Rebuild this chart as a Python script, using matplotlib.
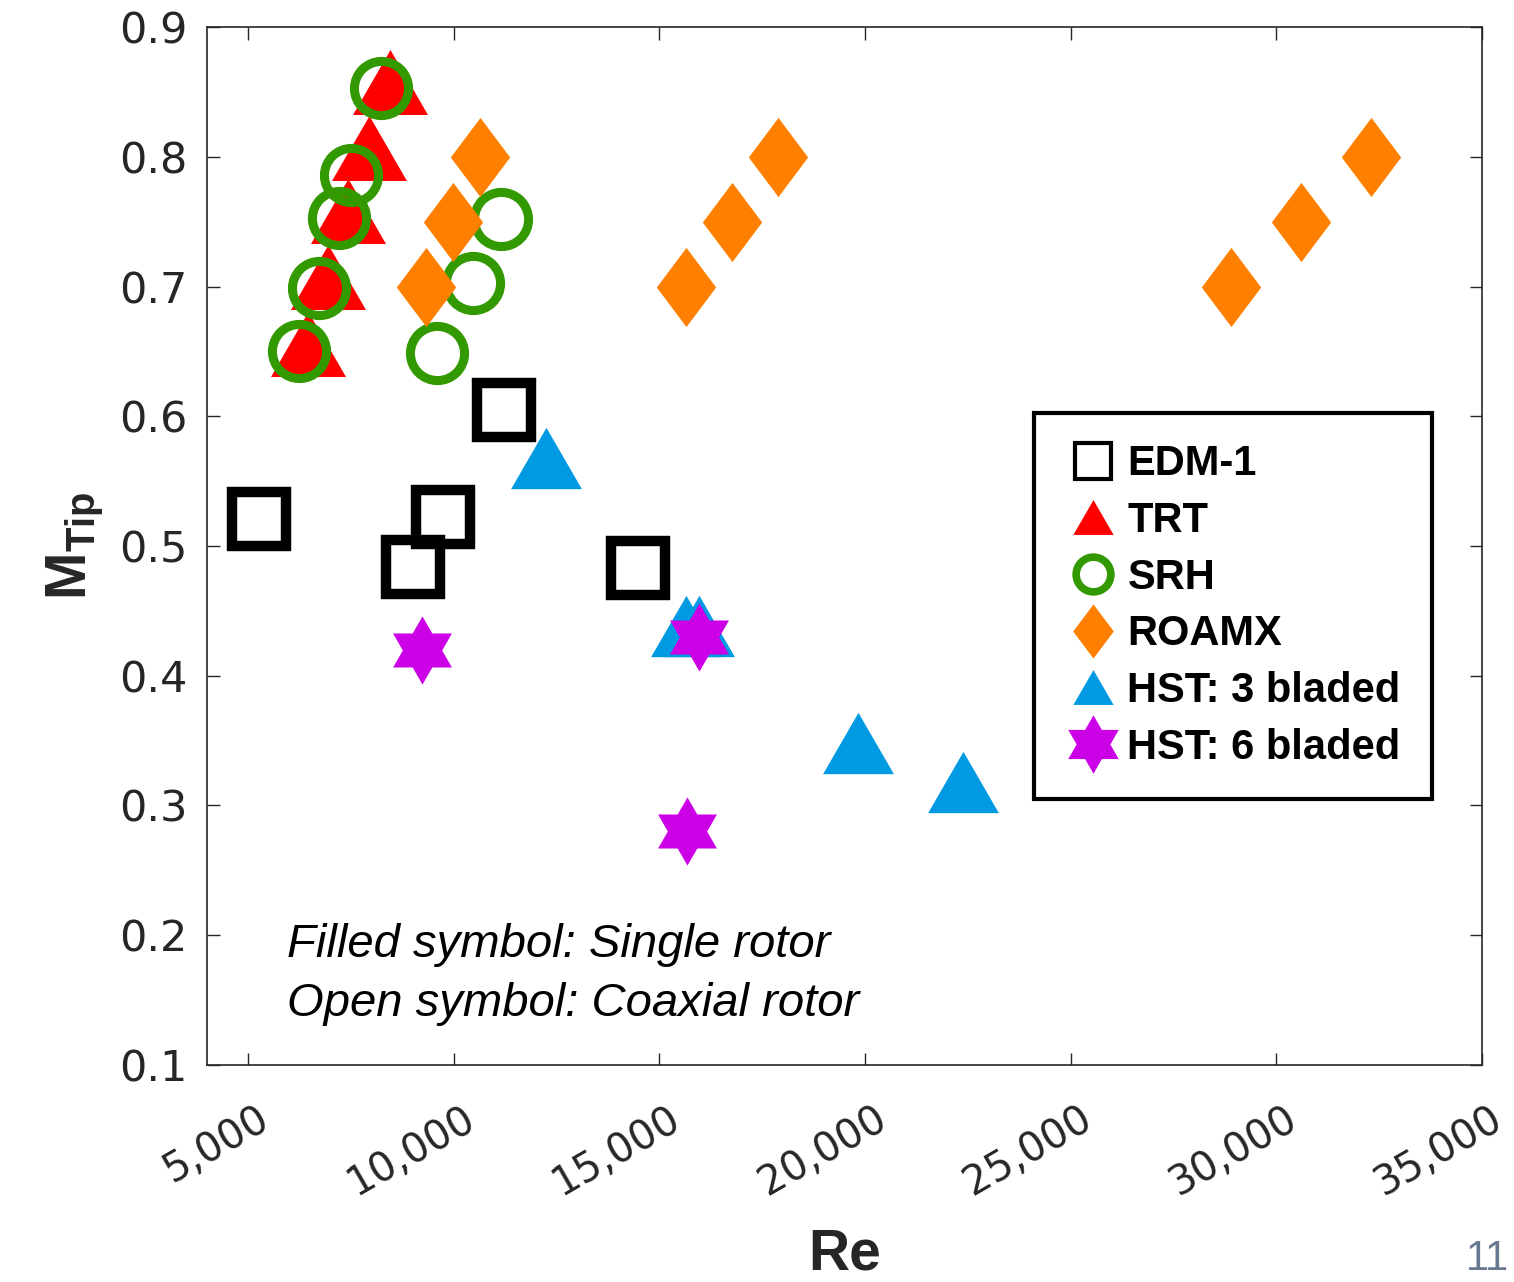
import numpy as np
import matplotlib.pyplot as plt
import matplotlib.transforms as mtransforms
from matplotlib.path import Path
from matplotlib.lines import Line2D
from matplotlib.ticker import FuncFormatter

plt.rcParams['font.family'] = ['Liberation Sans', 'DejaVu Sans']
plt.rcParams['mathtext.fontset'] = 'custom'
plt.rcParams['mathtext.rm'] = 'Liberation Sans'
plt.rcParams['mathtext.bf'] = 'Liberation Sans:bold'

# Reynolds number / tip Mach number for each rotor
edm_re = [5270, 9000, 9750, 11220, 14490]
edm_m = [0.521, 0.484, 0.522, 0.605, 0.483]

trt_re = [6450, 6940, 7420, 7930, 8440]
trt_m = [0.656, 0.707, 0.758, 0.807, 0.858]

srh_re = [6230, 6720, 7200, 7510, 8240, 9600, 10460, 11160]
srh_m = [0.650, 0.699, 0.753, 0.786, 0.853, 0.649, 0.703, 0.752]

roamx_re = [9320, 9970, 10650, 15650, 16770, 17880, 28900, 30600, 32300]
roamx_m = [0.700, 0.750, 0.800, 0.700, 0.750, 0.800, 0.700, 0.750, 0.800]

hst3_re = [12250, 15650, 15970, 19830, 22370]
hst3_m = [0.568, 0.438, 0.438, 0.348, 0.318]

hst6_re = [9220, 15970, 15680]
hst6_m = [0.420, 0.430, 0.280]

x_ticks = [5000, 10000, 15000, 20000, 25000, 30000, 35000]
y_ticks = [0.1, 0.2, 0.3, 0.4, 0.5, 0.6, 0.7, 0.8, 0.9]

# marker shapes
tri = Path([(0, 0.433), (-0.5, -0.433), (0.5, -0.433), (0, 0.433)], closed=True)
diamond = Path([(0, 0.5), (0.375, 0), (0, -0.5), (-0.375, 0), (0, 0.5)], closed=True)
ang = np.deg2rad(90 + 30 * np.arange(12))
rad = np.where(np.arange(12) % 2 == 0, 1.0, 1 / np.sqrt(3))
hexagram = Path(np.column_stack([rad * np.cos(ang), rad * np.sin(ang)]), closed=False)

c_red = '#ff0000'
c_green = '#339900'
c_orange = '#ff8000'
c_blue = '#009ae3'
c_mag = '#cc00e6'
grey = '#262626'

fig = plt.figure(figsize=(15.14, 12.82), dpi=100)
ax = fig.add_axes([0.1367, 0.1693, 0.8422, 0.8096])

ax.plot(edm_re, edm_m, ls='none', marker='s', ms=39, mfc='none', mec='k', mew=7.5)
ax.plot(trt_re, trt_m, ls='none', marker=tri, ms=54, mfc=c_red, mec=c_red, mew=0)
ax.plot(srh_re, srh_m, ls='none', marker='o', ms=39, mfc='none', mec=c_green, mew=6.5)
ax.plot(roamx_re, roamx_m, ls='none', marker=diamond, ms=57, mfc=c_orange, mec=c_orange, mew=0)
ax.plot(hst3_re, hst3_m, ls='none', marker=tri, ms=51, mfc=c_blue, mec=c_blue, mew=0)
ax.plot(hst6_re, hst6_m, ls='none', marker=hexagram, ms=49, mfc=c_mag, mec=c_mag, mew=0)

ax.set_xlim(4000, 35000)
ax.set_ylim(0.1, 0.9)
ax.set_xticks(x_ticks)
ax.set_yticks(y_ticks)
ax.xaxis.set_major_formatter(FuncFormatter(lambda v, p: f'{int(v):,}'))
ax.yaxis.set_major_formatter(FuncFormatter(lambda v, p: f'{v:.1f}'))

for s in ax.spines.values():
    s.set_color(grey)
    s.set_linewidth(1.2)
ax.tick_params(direction='in', length=9, width=1, colors=grey, top=True, right=True)
ax.tick_params(axis='y', labelsize=31, pad=14)
ax.tick_params(axis='x', labelsize=29, pad=24)
for lbl in ax.get_yticklabels():
    lbl.set_family('DejaVu Sans')
plt.setp(ax.get_xticklabels(), rotation=30, ha='right', va='top', rotation_mode='anchor',
         family='DejaVu Sans')
offset = mtransforms.ScaledTranslation(0.08, 0, fig.dpi_scale_trans)
for lbl in ax.get_xticklabels():
    lbl.set_transform(lbl.get_transform() + offset)

ax.set_xlabel('Re', fontsize=41, fontweight='bold', color=grey)
ax.xaxis.set_label_coords(0.5, -0.157)
ax.set_ylabel(r'$\mathbf{M_{Tip}}$', fontsize=41, color=grey)
ax.yaxis.set_label_coords(-0.08, 0.5)

ax.text(0.0627, 0.104, 'Filled symbol: Single rotor', transform=ax.transAxes,
        fontsize=34, style='italic', va='baseline')
ax.text(0.0627, 0.047, 'Open symbol: Coaxial rotor', transform=ax.transAxes,
        fontsize=34, style='italic', va='baseline')

handles = [
    Line2D([], [], ls='none', marker='s', ms=26, mfc='none', mec='k', mew=3),
    Line2D([], [], ls='none', marker=tri, ms=29, mfc=c_red, mec=c_red, mew=0),
    Line2D([], [], ls='none', marker='o', ms=25, mfc='none', mec=c_green, mew=5.5),
    Line2D([], [], ls='none', marker=diamond, ms=39, mfc=c_orange, mec=c_orange, mew=0),
    Line2D([], [], ls='none', marker=tri, ms=29, mfc=c_blue, mec=c_blue, mew=0),
    Line2D([], [], ls='none', marker=hexagram, ms=42, mfc=c_mag, mec=c_mag, mew=0),
]
labels = ['EDM-1', 'TRT', 'SRH', 'ROAMX', 'HST: 3 bladed', 'HST: 6 bladed']
leg = ax.legend(handles, labels, loc='upper left', bbox_to_anchor=(0.649, 0.628),
                borderaxespad=0, prop={'size': 30, 'weight': 'bold'},
                frameon=True, fancybox=False, edgecolor='k', framealpha=1,
                borderpad=0.75, labelspacing=0.4, handlelength=1.3, handletextpad=0.18)
leg.get_frame().set_linewidth(3)

fig.text(0.968, 0.0094, '11', fontsize=30, color='#687890', ha='left', va='baseline')

fig.savefig('out.png', dpi=100)
